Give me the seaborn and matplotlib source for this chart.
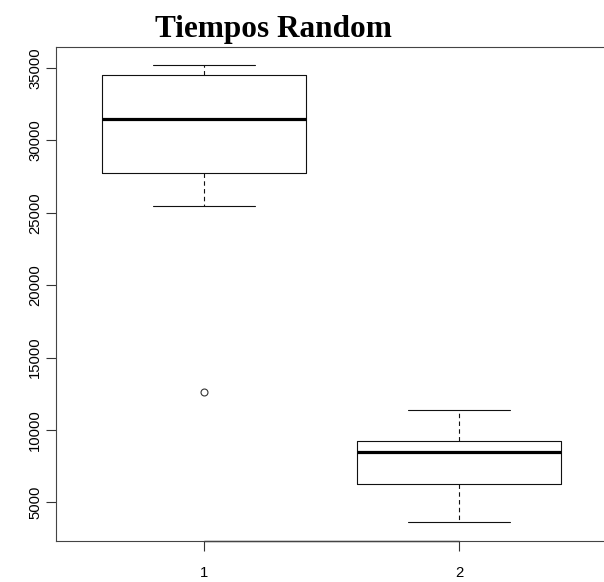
import matplotlib
matplotlib.use("Agg")
import matplotlib.pyplot as plt
import seaborn as sns
import pandas as pd

# Five-number summaries (R-style boxplot)
groups = ["1", "2"]
whisker_low = [25454, 3664]
q1 = [27753, 6254]
median = [31469, 8503]
q3 = [34518, 9240]
whisker_high = [35227, 11414]
outliers = [[12653], []]
yticks = [5000, 10000, 15000, 20000, 25000, 30000, 35000]
title = "Tiempos Random"

# Build data whose quartiles/whiskers reproduce the summaries exactly
rows = []
for g, lo, a, m, b, hi, outs in zip(groups, whisker_low, q1, median, q3, whisker_high, outliers):
    vals = list(outs) + [lo, a, a, m, m, b, b, hi]
    rows += [(g, v) for v in vals]
df = pd.DataFrame(rows, columns=["grupo", "tiempo"])

sns.set_style("white")
plt.rcParams["font.family"] = ["Liberation Sans", "DejaVu Sans"]

fig = plt.figure(figsize=(6.04, 5.82), dpi=100)
ax = fig.add_axes([55.7 / 604, 41 / 582, (607 - 55.7) / 604, (541 - 46.7) / 582])

lc = "#111111"
sns.boxplot(
    data=df, x="grupo", y="tiempo", order=groups, ax=ax,
    fill=False, width=0.8, linecolor=lc, linewidth=0.8,
    medianprops=dict(color="black", linewidth=2.3),
    whiskerprops=dict(color=lc, linewidth=0.8, linestyle=(0, (4, 3))),
    capprops=dict(color=lc, linewidth=0.8),
    boxprops=dict(color=lc, linewidth=0.8),
    flierprops=dict(marker="o", markersize=5, markerfacecolor="none",
                    markeredgecolor="#333333", markeredgewidth=0.8),
    whis=1.5,
)

ax.set_xlim(-0.58, 1.58)
ax.set_ylim(2336, 36464)
ax.set_yticks(yticks)
ax.set_yticklabels([str(t) for t in yticks], rotation=90, va="center")
ax.set_xlabel("")
ax.set_ylabel("")

for s in ax.spines.values():
    s.set_visible(True)
    s.set_color("#444444")
    s.set_linewidth(0.8)

ax.tick_params(axis="both", which="both", length=7.2, width=0.8, color="#333333",
               labelsize=10.7, labelcolor="black")
ax.tick_params(axis="x", pad=11, bottom=True)
ax.tick_params(axis="y", pad=2.5, left=True)

# R-style axis line between first and last tick
ax.plot([0, 1], [2336, 2336], color="#222222", linewidth=1.0, clip_on=False)

fig.text(273 / 604, 1 - 37 / 582, title, ha="center", va="baseline", color="black",
         family=["Liberation Serif", "DejaVu Serif"], weight="bold", size=22.5)

fig.savefig("out.png", dpi=100)
